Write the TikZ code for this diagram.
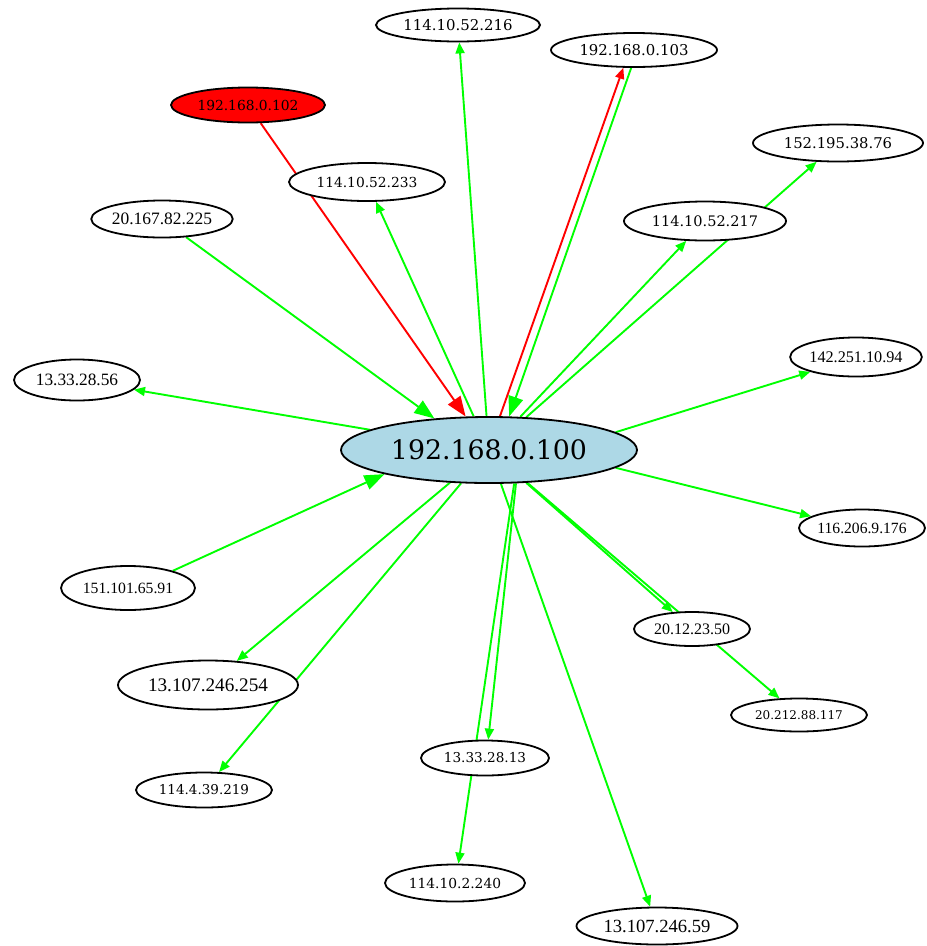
\documentclass[tikz,border=0pt]{standalone}
\usepackage{fontspec}
\usepackage{tikz}
\usetikzlibrary{arrows.meta,shapes.geometric,backgrounds}
\newfontfamily\wideserif{DejaVu Serif}
\newfontfamily\narrowserif{Liberation Serif}
\newcommand{\WS}[1]{\wideserif\fontsize{#1}{#1}\selectfont}
\newcommand{\NS}[1]{\narrowserif\fontsize{#1}{#1}\selectfont}
\definecolor{linkgreen}{HTML}{00FF00}
\definecolor{hostblue}{HTML}{ADD8E6}

\begin{document}
\begin{tikzpicture}
	[
	 x = 1pt, y = -1pt,
	 host/.style   = {shape=ellipse,
	                  draw,
	                  fill=white,
	                  line width=1.8pt,
	                  inner sep=0pt},
	 link/.style   = {draw=linkgreen, line width=1.9pt,
	                  -{Triangle[length=11pt,width=9pt]}},
	 inlink/.style = {link, -{Triangle[length=20pt,width=15pt]}},
	 alert/.style  = {draw=red}
	]
	\useasboundingbox (0,0) rectangle (927,946);

	\node [host, fill=hostblue, minimum width=296, minimum height=66] (n100) at (489,450) {\WS{26.8}192.168.0.100};

	\node [host, minimum width=164, minimum height=33] (n216) at (458,25)  {\WS{14.9}114.10.52.216};
	\node [host, minimum width=166, minimum height=34] (n103) at (634,50)  {\WS{14.9}192.168.0.103};
	\node [host, fill=red, minimum width=154, minimum height=35] (n102) at (248,105) {\WS{13.8}192.168.0.102};
	\node [host, minimum width=156, minimum height=38] (n233) at (367,182) {\WS{13.8}114.10.52.233};
	\node [host, minimum width=170, minimum height=37] (n152) at (838,143) {\WS{14.8}152.195.38.76};
	\node [host, minimum width=136, minimum height=37] (n225) at (162,219) {\NS{17.4}20.167.82.225};
	\node [host, minimum width=162, minimum height=39] (n217) at (705,221) {\WS{14.5}114.10.52.217};
	\node [host, minimum width=126, minimum height=41] (n56)  at (77,380)  {\NS{17.3}13.33.28.56};
	\node [host, minimum width=124, minimum height=39] (n94)  at (856,357) {\NS{16.2}142.251.10.94};
	\node [host, minimum width=126, minimum height=37] (n176) at (862,528) {\NS{15.6}116.206.9.176};
	\node [host, minimum width=134, minimum height=44] (n91)  at (128,588) {\NS{15.7}151.101.65.91};
	\node [host, minimum width=116, minimum height=34] (n50)  at (692,629) {\NS{16}20.12.23.50};
	\node [host, minimum width=180, minimum height=49] (n254) at (208,685) {\NS{19.2}13.107.246.254};
	\node [host, minimum width=136, minimum height=33] (n117) at (799,715) {\WS{12}20.212.88.117};
	\node [host, minimum width=128, minimum height=35] (n13)  at (485,758) {\WS{13.6}13.33.28.13};
	\node [host, minimum width=136, minimum height=35] (n219) at (204,790) {\WS{13.5}114.4.39.219};
	\node [host, minimum width=140, minimum height=37] (n240) at (455,883) {\WS{13.8}114.10.2.240};
	\node [host, minimum width=161, minimum height=37] (n59)  at (657,926) {\NS{18.6}13.107.246.59};

	\begin{scope}[on background layer]
	  \draw [inlink, alert] (n102) -- (n100);
	  \draw [link, alert]   (n100.72) -- (n103.-121);
	  \draw [inlink]        (n103.-99) -- (n100.59);
	  \draw [inlink]        (n225.-37) -- (n100.150);
	  \draw [inlink]        (n91.21) -- (n100.193);
	  \draw [link] (n100) -- (n216);
	  \draw [link] (n100) -- (n233);
	  \draw [link] (n100) -- (n56);
	  \draw [link] (n100) -- (n217);
	  \draw [link] (n100) -- (n152);
	  \draw [link] (n100.8) -- (n94.198);
	  \draw [link] (n100.-8) -- (n176.167);
	  \draw [link] (n100) -- (n254);
	  \draw [link] (n100) -- (n219);
	  \draw [link] (n100) -- (n50);
	  \draw [link] (n100) -- (n117);
	  \draw [link] (n100.-51) -- (n13.80);
	  \draw [link] (n100.-53) -- (n240.80);
	  \draw [link] (n100) -- (n59);
	\end{scope}
\end{tikzpicture}
\end{document}
